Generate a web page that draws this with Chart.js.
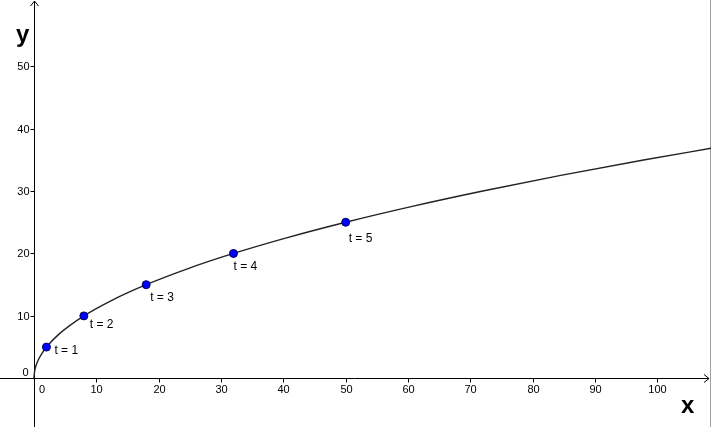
<!DOCTYPE html>
<html>
<head>
<meta charset="utf-8">
<script src="https://cdn.jsdelivr.net/npm/chart.js@4/dist/chart.umd.min.js"></script>
<style>
html,body{margin:0;padding:0;background:#fff;overflow:hidden;}
#c{display:block;}
</style>
</head>
<body>
<canvas id="c" width="711" height="427"></canvas>
<script>
// Data
const xTicks = [0, 10, 20, 30, 40, 50, 60, 70, 80, 90, 100];
const yTicks = [0, 10, 20, 30, 40, 50];
const pointX = [2, 8, 18, 32, 50];
const pointY = [5, 10, 15, 20, 25];
const pointLabels = ['t = 1', 't = 2', 't = 3', 't = 4', 't = 5'];
const curveX = [0, 0.08, 0.32, 0.72, 1.28, 2, 3.92, 8, 12.5, 18, 24.5, 32, 40.5, 50, 60.5, 72, 84.5, 98, 108.6];
const curveY = [0, 1, 2, 3, 4, 5, 7, 10, 12.5, 15, 17.5, 20, 22.5, 25, 27.5, 30, 32.5, 35, 36.85];

// Label offsets (pixels) – style only
const labelOffsets = [[8, 4], [6, 9], [4, 13], [0, 13], [3, 16]];

const FONT = '"Liberation Sans", Arial, "DejaVu Sans", sans-serif';

const axesPlugin = {
  id: 'geoAxes',
  beforeDatasetsDraw(chart) {
    const ctx = chart.ctx;
    const xs = chart.scales.x, ys = chart.scales.y;
    const ox = Math.round(xs.getPixelForValue(0)) + 0.5;
    const oy = Math.round(ys.getPixelForValue(0)) + 0.5;
    const W = chart.width, H = chart.height;
    ctx.save();
    ctx.strokeStyle = '#000';
    ctx.lineWidth = 1;
    // axes
    ctx.beginPath();
    ctx.moveTo(0, oy); ctx.lineTo(W - 2, oy);
    ctx.moveTo(ox, H); ctx.lineTo(ox, 1);
    ctx.stroke();
    // arrows
    ctx.beginPath();
    ctx.moveTo(W - 7, oy - 4); ctx.lineTo(W - 2, oy); ctx.lineTo(W - 7, oy + 4);
    ctx.moveTo(ox - 4, 6); ctx.lineTo(ox, 1); ctx.lineTo(ox + 4, 6);
    ctx.stroke();
    // ticks and labels
    ctx.fillStyle = '#000';
    ctx.font = '11px ' + FONT;
    ctx.textBaseline = 'middle';
    xTicks.forEach(v => {
      const px = Math.round(xs.getPixelForValue(v)) + 0.5;
      if (v !== 0) {
        ctx.beginPath(); ctx.moveTo(px, oy); ctx.lineTo(px, oy + 4); ctx.stroke();
        ctx.textAlign = 'center';
        ctx.fillText(String(v), px, oy + 11);
      } else {
        ctx.textAlign = 'center';
        ctx.fillText('0', px + 7.5, oy + 11);
      }
    });
    yTicks.forEach(v => {
      const py = Math.round(ys.getPixelForValue(v)) + 0.5;
      ctx.textAlign = 'right';
      if (v !== 0) {
        ctx.beginPath(); ctx.moveTo(ox - 4, py); ctx.lineTo(ox, py); ctx.stroke();
        ctx.fillText(String(v), ox - 5, py);
      } else {
        ctx.fillText('0', ox - 6, py - 6);
      }
    });
    // axis names
    ctx.font = 'bold 24px ' + FONT;
    ctx.textAlign = 'left';
    ctx.textBaseline = 'alphabetic';
    ctx.fillText('y', 16, 42);
    ctx.fillText('x', 681, 413);
    // right border
    ctx.strokeStyle = '#a0a0a0';
    ctx.beginPath(); ctx.moveTo(W - 0.5, 0); ctx.lineTo(W - 0.5, H); ctx.stroke();
    ctx.restore();
  },
  afterDatasetsDraw(chart) {
    const ctx = chart.ctx;
    const meta = chart.getDatasetMeta(0);
    ctx.save();
    ctx.fillStyle = '#000';
    ctx.font = '12px ' + FONT;
    ctx.textAlign = 'left';
    ctx.textBaseline = 'middle';
    meta.data.forEach((el, i) => {
      const o = labelOffsets[i];
      ctx.fillText(pointLabels[i], el.x + o[0], el.y + o[1]);
    });
    ctx.restore();
  }
};

new Chart(document.getElementById('c'), {
  type: 'scatter',
  data: {
    datasets: [
      {
        label: 'points',
        data: pointX.map((x, i) => ({x, y: pointY[i]})),
        pointRadius: 4,
        pointBackgroundColor: '#0000ff',
        pointBorderColor: '#000050',
        pointBorderWidth: 1,
        showLine: false,
        order: 0
      },
      {
        label: 'curve',
        data: curveX.map((x, i) => ({x, y: curveY[i]})),
        showLine: true,
        borderColor: '#222',
        borderWidth: 1.4,
        pointRadius: 0,
        cubicInterpolationMode: 'monotone',
        fill: false,
        order: 1
      }
    ]
  },
  options: {
    responsive: false,
    animation: false,
    devicePixelRatio: 1,
    layout: {padding: 0, autoPadding: false},
    plugins: {legend: {display: false}, tooltip: {enabled: false}},
    scales: {
      x: {type: 'linear', min: -5.45, max: 108.6, display: false},
      y: {type: 'linear', min: -7.8, max: 60.6, display: false}
    }
  },
  plugins: [axesPlugin]
});
</script>
</body>
</html>
